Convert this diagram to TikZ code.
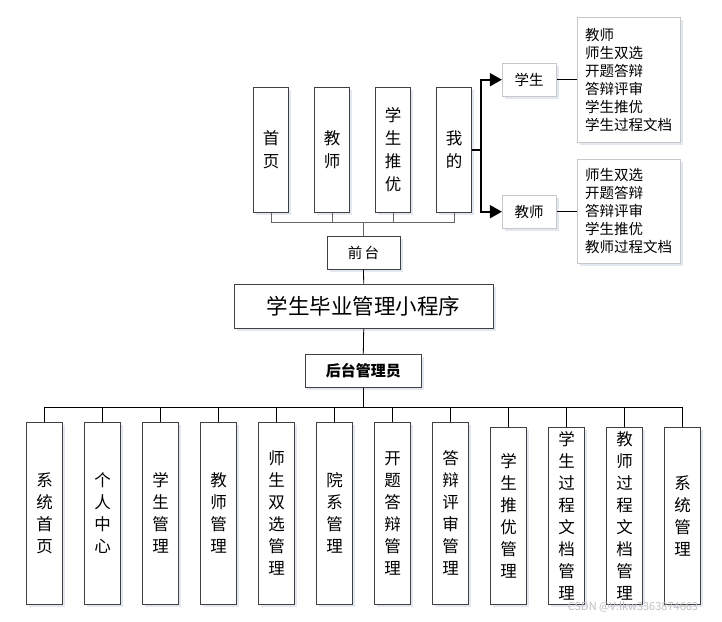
\documentclass[tikz,border=0pt]{standalone}
\usepackage{fontspec}
\setmainfont{Noto Sans CJK SC}
\usetikzlibrary{arrows.meta,shadows}
\definecolor{boxline}{HTML}{404040}
\definecolor{lightline}{HTML}{C8C8C8}
\definecolor{shade}{HTML}{E3E8F0}
\tikzset{
  base/.style={draw=boxline,line width=0.9pt,fill=white,inner sep=0pt,
    drop shadow={shadow xshift=2.5pt,shadow yshift=-2.5pt,fill=shade,opacity=1}},
  topbox/.style={base,minimum width=35.4pt,minimum height=124.6pt,align=center,
    font=\fontsize{16.5}{23}\selectfont},
  botbox/.style={base,minimum width=36pt,align=center,
    font=\fontsize{16.5}{22}\selectfont},
  midbox/.style={base,font=\fontsize{14.5}{16}\selectfont},
  rolebox/.style={base,draw=lightline,minimum width=53.7pt,minimum height=32.7pt,
    font=\fontsize{14.5}{16}\selectfont},
  listbox/.style={base,draw=lightline,minimum width=103pt,align=left,
    font=\fontsize{14.5}{18}\selectfont,text width=88pt},
  conn/.style={draw=black,line width=0.8pt},
  grayconn/.style={draw=black!60,line width=1pt},
  thick conn/.style={draw=black,line width=1.8pt},
}
\begin{document}
\begin{tikzpicture}[x=1pt,y=-1pt]
\useasboundingbox[fill=white] (0,0) rectangle (722,621);

% top boxes
\node[topbox] (t1) at (271,150) {首\\页};
\node[topbox] (t2) at (332,150) {教\\师};
\node[topbox] (t3) at (393,150) {学\\生\\推\\优};
\node[topbox] (t4) at (454,150) {我\\的};

\node[midbox,minimum width=73pt,minimum height=32.6pt] (qt) at (363.5,253) {前\,台};
\node[base,minimum width=259.3pt,minimum height=44.3pt,font=\fontsize{21.5}{24}\selectfont] (main) at (363.7,306.2) {学生毕业管理小程序};
\node[midbox,minimum width=116.7pt,minimum height=33.4pt,font=\fontsize{15}{16}\selectfont\bfseries] (ht) at (363.3,371) {后台管理员};

% role boxes
\node[rolebox] (stu) at (529.2,79.7) {学生};
\node[rolebox] (tea) at (529.2,211.7) {教师};
\node[listbox,minimum height=124.6pt] (l1) at (629.2,80) {教师\\师生双选\\开题答辩\\答辩评审\\学生推优\\学生过程文档};
\node[listbox,minimum height=103.6pt] (l2) at (629.2,211.5) {师生双选\\开题答辩\\答辩评审\\学生推优\\教师过程文档};

% top connectors
\foreach \t in {t1,t2,t3,t4}{
  \draw[grayconn] (\t.south) -- ++(0,9.7) -| (qt.north);
}
\draw[conn] (qt.south) -- (main.north);
\draw[conn] (main.south) -- (ht.north);

\coordinate (split) at (480.7,150);
\draw[thick conn] (t4.east) -- (split);
\draw[thick conn,-{Triangle[length=12pt,width=13pt]}] (split) |- (stu.west);
\draw[thick conn,-{Triangle[length=12pt,width=13pt]}] (split) |- (tea.west);
\draw[conn] (stu.east) -- (l1.west |- stu.east);
\draw[conn] (tea.east) -- (l2.west |- tea.east);

% bottom boxes
\foreach \n/\x/\txt in {b1/44.7/系\\统\\首\\页, b2/102.5/个\\人\\中\\心, b3/160.5/学\\生\\管\\理,
  b4/218.5/教\\师\\管\\理, b5/276.5/师\\生\\双\\选\\管\\理, b6/334.5/院\\系\\管\\理,
  b7/392.5/开\\题\\答\\辩\\管\\理, b8/450.5/答\\辩\\评\\审\\管\\理}{
  \node[botbox,minimum height=182pt] (\n) at (\x,513.3) {\txt};
}
\foreach \n/\x/\txt in {b9/508.7/学\\生\\推\\优\\管\\理, b10/566.5/学\\生\\过\\程\\文\\档\\管\\理,
  b11/624.7/教\\师\\过\\程\\文\\档\\管\\理, b12/682.5/系\\统\\管\\理}{
  \node[botbox,minimum height=177pt] (\n) at (\x,515.8) {\txt};
}
\foreach \n in {b1,b2,b3,b4,b5,b6,b7,b8,b9,b10,b11,b12}{
  \draw[conn] (ht.south) -- ++(0,19.6) -| (\n.north);
}

\node[text=black!25,font=\fontsize{11}{12}\selectfont,inner sep=0pt] (wm) at (633,607) {CSDN @V:lkw3363874663};
\end{tikzpicture}
\end{document}
